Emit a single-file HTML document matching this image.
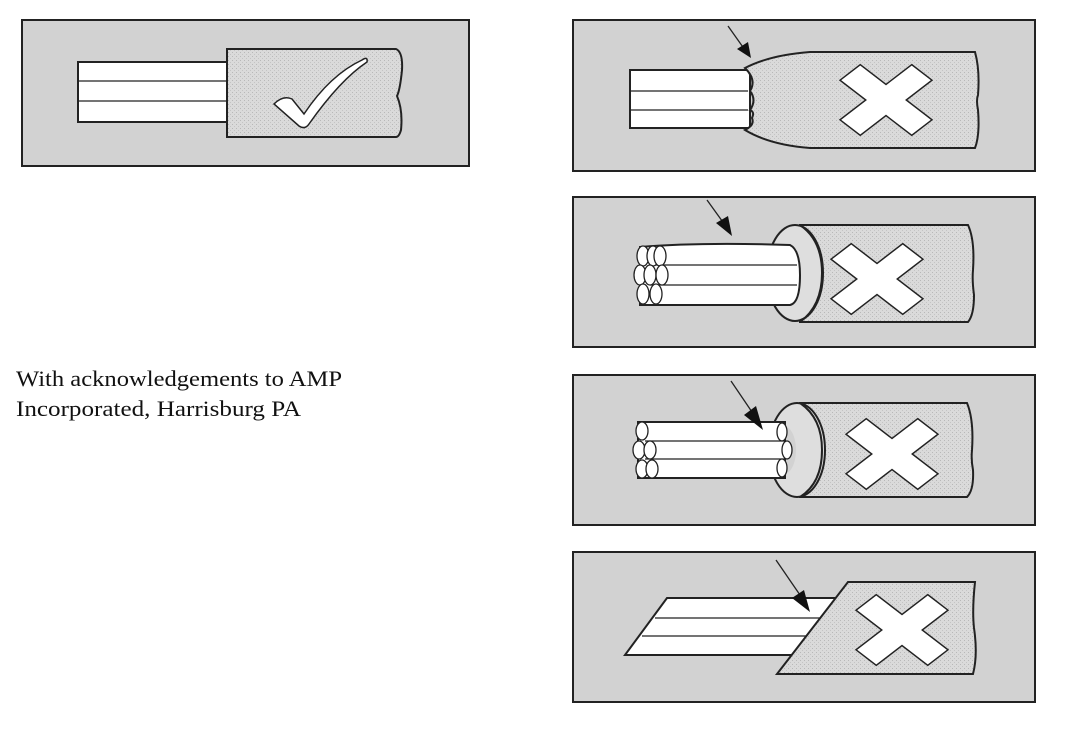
<!DOCTYPE html>
<html><head><meta charset="utf-8"><style>
html,body{margin:0;padding:0;background:#fff;}
svg{display:block;}
</style></head><body>
<svg width="1080" height="739" viewBox="0 0 1080 739" xmlns="http://www.w3.org/2000/svg">
<defs>
<pattern id="st" width="4" height="4" patternUnits="userSpaceOnUse">
<rect width="4" height="4" fill="#dadada"/>
<rect x="0" y="0" width="1" height="1" fill="#b8b8b8"/>
<rect x="2" y="2" width="1" height="1" fill="#c4c4c4"/>
</pattern>
<polygon id="xx" points="-11,-39 11,-39 11,-11 39,-11 39,11 11,11 11,39 -11,39 -11,11 -39,11 -39,-11 -11,-11" fill="#fff" stroke="#222" stroke-width="1.3"/>
</defs>
<g stroke="#222" stroke-width="2" fill="#d2d2d2">
<rect x="22" y="20" width="447" height="146"/>
<rect x="573" y="20" width="462" height="151"/>
<rect x="573" y="197" width="462" height="150"/>
<rect x="573" y="375" width="462" height="150"/>
<rect x="573" y="552" width="462" height="150"/>
</g>

<!-- Panel 1 -->
<g stroke="#222" stroke-width="2">
<rect x="78" y="62" width="160" height="60" fill="#fff"/>
<line x1="78" y1="81" x2="230" y2="81" stroke-width="1.3"/>
<line x1="78" y1="101" x2="230" y2="101" stroke-width="1.3"/>
<path d="M227 49 H396 Q403 52 402 70 Q400 90 397 96 Q403 110 401 130 Q399 137 396 137 H227 Z" fill="url(#st)"/>
<path d="M274 104 Q283 95 292 99 L304 114 Q330 75 362 60 Q368 56 367 62 Q340 80 309 124 Q305 130 299 126 Z" fill="#fff" stroke-width="1.5"/>
</g>

<!-- Panel 2 -->
<g stroke="#222" stroke-width="2">
<rect x="630" y="70" width="120" height="58" fill="#fff"/>
<line x1="630" y1="91" x2="748" y2="91" stroke-width="1.3"/>
<line x1="630" y1="110" x2="748" y2="110" stroke-width="1.3"/>
<path d="M745 68 Q770 55 810 52 H975 Q980 70 978 95 Q976 100 978 110 Q980 135 975 148 H810 Q770 145 745 130 Q755 125 752 118 Q755 112 750 110 Q757 100 750 91 Q757 80 745 68 Z" fill="url(#st)"/>
<line x1="728" y1="26" x2="745" y2="50" stroke-width="1.3"/>
<polygon points="737,49 748,42 751,58" fill="#111" stroke="none"/>
</g>
<use href="#xx" transform="translate(886,100) scale(1.3,1) rotate(45)"/>

<!-- Panel 3 -->
<g stroke="#222" stroke-width="2">
<path d="M800 225 H968 Q975 240 973 270 Q972 280 974 295 Q974 315 968 322 H800 Z" fill="url(#st)"/>
<ellipse cx="795" cy="273" rx="28" ry="48" fill="#dedede"/>
<path d="M800 225 Q822 240 822 273 Q822 306 800 322" fill="none"/>
<path d="M640 247 Q700 242 790 245 Q800 250 800 275 Q800 303 790 305 H640 Z" fill="#fff"/>
<line x1="650" y1="265" x2="797" y2="265" stroke-width="1.3"/>
<line x1="650" y1="285" x2="797" y2="285" stroke-width="1.3"/>
<g fill="#fff" stroke-width="1.3">
<ellipse cx="643" cy="256" rx="6" ry="10"/><ellipse cx="653" cy="256" rx="6" ry="10"/><ellipse cx="660" cy="256" rx="6" ry="10"/>
<ellipse cx="640" cy="275" rx="6" ry="10"/><ellipse cx="650" cy="275" rx="6" ry="10"/><ellipse cx="662" cy="275" rx="6" ry="10"/>
<ellipse cx="643" cy="294" rx="6" ry="10"/><ellipse cx="656" cy="294" rx="6" ry="10"/>
</g>
<line x1="707" y1="200" x2="725" y2="225" stroke-width="1.3"/>
<polygon points="716,223 728,216 732,236" fill="#111" stroke="none"/>
</g>
<use href="#xx" transform="translate(877,279) scale(1.3,1) rotate(45)"/>

<!-- Panel 4 -->
<g stroke="#222" stroke-width="2">
<path d="M800 403 H967 Q974 420 972 450 Q971 460 973 470 Q974 490 967 497 H800 Z" fill="url(#st)"/>
<ellipse cx="797" cy="450" rx="28" ry="47" fill="#dedede"/>
<path d="M800 403 Q822 418 822 450 Q822 483 800 497" fill="none"/>
<ellipse cx="784" cy="450" rx="12" ry="24" fill="#d2d2d2" stroke="none"/>
<path d="M638 422 H785 V478 H638 Z" fill="#fff"/>
<line x1="645" y1="441" x2="785" y2="441" stroke-width="1.3"/>
<line x1="645" y1="459" x2="785" y2="459" stroke-width="1.3"/>
<g fill="#fff" stroke-width="1.3">
<ellipse cx="642" cy="431" rx="6" ry="9"/><ellipse cx="639" cy="450" rx="6" ry="9"/><ellipse cx="650" cy="450" rx="6" ry="9"/>
<ellipse cx="642" cy="469" rx="6" ry="9"/><ellipse cx="652" cy="469" rx="6" ry="9"/>
<ellipse cx="782" cy="432" rx="5" ry="9"/><ellipse cx="787" cy="450" rx="5" ry="9"/><ellipse cx="782" cy="468" rx="5" ry="9"/>
</g>
<line x1="731" y1="381" x2="752" y2="412" stroke-width="1.3"/>
<polygon points="744,415 756,406 763,430" fill="#111" stroke="none"/>
</g>
<use href="#xx" transform="translate(892,454) scale(1.3,1) rotate(45)"/>

<!-- Panel 5 -->
<g stroke="#222" stroke-width="2">
<polygon points="667,598 835,598 835,655 625,655" fill="#fff"/>
<line x1="655" y1="618" x2="820" y2="618" stroke-width="1.3"/>
<line x1="642" y1="636" x2="810" y2="636" stroke-width="1.3"/>
<path d="M848 582 H975 Q972 610 974 628 Q978 655 973 674 H777 Z" fill="url(#st)"/>
<line x1="776" y1="560" x2="800" y2="595" stroke-width="1.3"/>
<polygon points="792,598 804,590 810,612" fill="#111" stroke="none"/>
</g>
<use href="#xx" transform="translate(902,630) scale(1.3,1) rotate(45)"/>

<g font-family="Liberation Serif, serif" font-size="22" fill="#111">
<text x="16" y="386" textLength="326" lengthAdjust="spacingAndGlyphs">With acknowledgements to AMP</text>
<text x="16" y="416" textLength="285" lengthAdjust="spacingAndGlyphs">Incorporated, Harrisburg PA</text>
</g>
</svg>
</body></html>
